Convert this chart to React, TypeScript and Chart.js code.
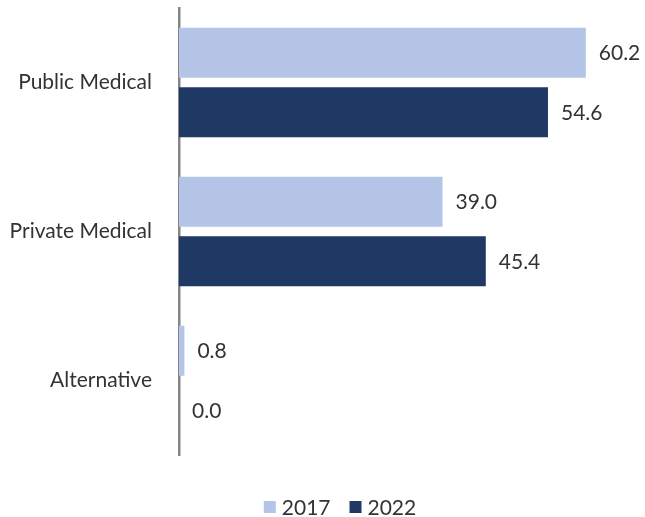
import React, { useEffect, useRef } from "react";
import { Chart, registerables } from "chart.js";

Chart.register(...registerables);

const categories = ["Public Medical", "Private Medical", "Alternative"];
const values2017 = [60.2, 39.0, 0.8];
const values2022 = [54.6, 45.4, 0.0];
const seriesLabels = ["2017", "2022"];
const seriesColors = ["#b4c5e7", "#203864"];

const FONT = "Lato, 'Open Sans', sans-serif";
const FONT_SIZE = 21;
const TEXT = "#333333";

const valueLabels = {
  id: "valueLabels",
  afterDatasetsDraw(chart: any) {
    const ctx = chart.ctx;
    ctx.save();
    ctx.font = `${FONT_SIZE}px ${FONT}`;
    ctx.fillStyle = TEXT;
    ctx.textBaseline = "middle";
    ctx.textAlign = "left";
    chart.data.datasets.forEach((ds: any, di: number) => {
      const meta = chart.getDatasetMeta(di);
      meta.data.forEach((bar: any, i: number) => {
        const v = ds.data[i];
        ctx.fillText(Number(v).toFixed(1), bar.x + 13, bar.y + 1);
      });
    });
    ctx.restore();
  },
};

const bottomLegend = {
  id: "bottomLegend",
  afterDraw(chart: any) {
    const ctx = chart.ctx;
    ctx.save();
    ctx.font = `${FONT_SIZE}px ${FONT}`;
    ctx.textBaseline = "middle";
    ctx.textAlign = "left";
    const box = 12;
    const gap = 6;
    const itemGap = 19;
    const items = chart.data.datasets.map((ds: any) => ({
      label: ds.label,
      color: ds.backgroundColor,
      w: box + gap + ctx.measureText(ds.label).width,
    }));
    const total = items.reduce((s: number, it: any) => s + it.w, 0) + itemGap * (items.length - 1);
    let x = 340 - total / 2;
    const cy = 507;
    items.forEach((it: any) => {
      ctx.fillStyle = it.color;
      ctx.fillRect(x, cy - box / 2, box, box);
      ctx.fillStyle = TEXT;
      ctx.fillText(it.label, x + box + gap, cy + 1);
      x += it.w + itemGap;
    });
    ctx.restore();
  },
};

export default function App() {
  const ref = useRef<HTMLCanvasElement>(null);
  useEffect(() => {
    if (!ref.current) return;
    const chart = new Chart(ref.current, {
      type: "bar",
      data: {
        labels: categories,
        datasets: [
          {
            label: seriesLabels[0],
            data: values2017,
            backgroundColor: seriesColors[0],
            borderColor: seriesColors[0],
          },
          {
            label: seriesLabels[1],
            data: values2022,
            backgroundColor: seriesColors[1],
            borderColor: seriesColors[1],
          },
        ],
      },
      options: {
        indexAxis: "y",
        responsive: false,
        animation: false,
        categoryPercentage: 0.8,
        barPercentage: 0.84,
        layout: { padding: { top: 8, right: 20, left: 0, bottom: 62 } },
        scales: {
          x: {
            display: false,
            min: 0,
            max: 66,
          },
          y: {
            grid: { display: false, drawTicks: false },
            border: { display: true, color: "#858585", width: 2.5 },
            ticks: {
              color: TEXT,
              font: { family: FONT, size: FONT_SIZE },
              padding: 27,
            },
            afterFit(scale: any) {
              scale.width = 179;
              scale.paddingTop = 0;
              scale.paddingBottom = 0;
            },
          },
        },
        plugins: {
          legend: { display: false },
          tooltip: { enabled: false },
        },
      },
      plugins: [valueLabels, bottomLegend],
    });
    return () => chart.destroy();
  }, []);
  return (
    <div style={{ position: "absolute", left: 0, top: 0, width: 645, height: 517, background: "#fff" }}>
      <canvas ref={ref} width={645} height={517} />
    </div>
  );
}
